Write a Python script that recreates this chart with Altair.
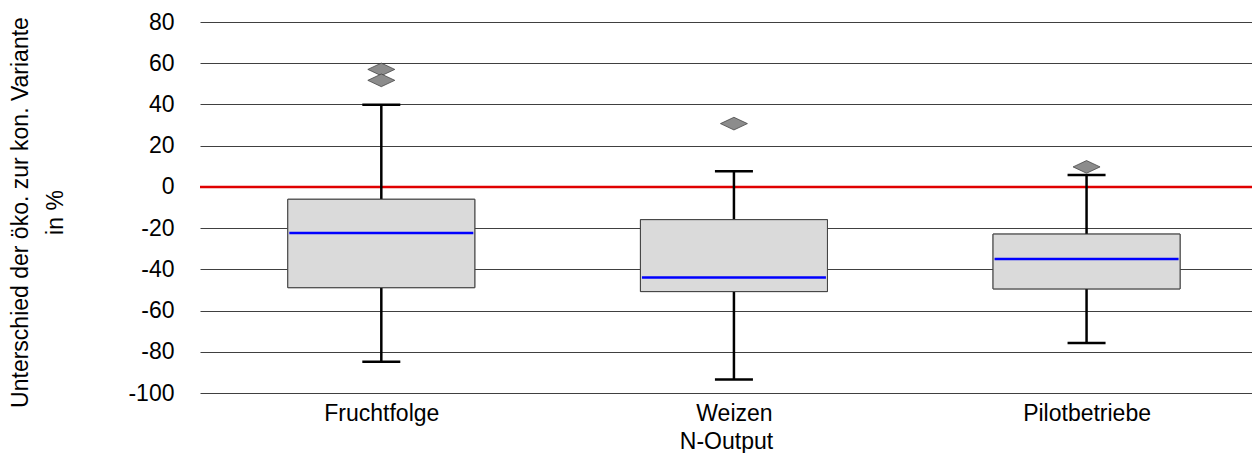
import json
import altair as alt
import pandas as pd

categories = ["Fruchtfolge", "Weizen", "Pilotbetriebe"]
q1 = [-48.9, -50.8, -49.5]
q3 = [-6.0, -15.9, -22.9]
median = [-22.4, -44.0, -35.0]
whisker_low = [-84.8, -93.5, -75.7]
whisker_high = [39.9, 7.6, 5.8]
outlier_cat = ["Fruchtfolge", "Fruchtfolge", "Weizen", "Pilotbetriebe"]
outlier_val = [57.0, 51.7, 30.7, 9.7]
y_ticks = [80, 60, 40, 20, 0, -20, -40, -60, -80, -100]

FONT = "Liberation Sans"
FS = 23

boxes = pd.DataFrame({
    "cat": categories,
    "idx": list(range(len(categories))),
    "q1": q1, "q3": q3, "median": median,
    "lo": whisker_low, "hi": whisker_high,
})
outl = pd.DataFrame({
    "idx": [categories.index(c) for c in outlier_cat],
    "val": outlier_val,
})
zero = pd.DataFrame({"y": [0], "idx": [0]})

xscale = alt.Scale(domain=[-0.5, 2.455], nice=False, zero=False)
yscale = alt.Scale(domain=[-100, 80], nice=False, zero=False)
label_expr = json.dumps(categories) + "[datum.value]"

x_axis = alt.Axis(values=[0, 1, 2], labelExpr=label_expr, title="N-Output",
                  domain=False, ticks=False, grid=False, labelPadding=9,
                  labelFontSize=FS, titleFontSize=FS, labelFont=FONT, titleFont=FONT,
                  labelColor="#000000", titleColor="#000000", titleFontWeight="normal",
                  titleBaseline="alphabetic", titleY=55)
y_axis = alt.Axis(values=y_ticks, title=["Unterschied der öko. zur kon. Variante", "in %"],
                  labelExpr="replace(format(datum.value, 'd'), '\u2212', '-')",
                  domain=False, ticks=False, tickSize=0, grid=True, gridColor="#404040",
                  gridWidth=1, gridOpacity=1, labelPadding=26, labelFontSize=FS, titleFontSize=FS,
                  labelFont=FONT, titleFont=FONT, labelColor="#000000",
                  titleColor="#000000", titleFontWeight="normal",
                  titleX=-168, titleY=190, titleLineHeight=35, titleAlign="center")


def X():
    return alt.X("idx:Q", scale=xscale, axis=x_axis)


def Y(field):
    return alt.Y(field, scale=yscale, axis=y_axis)


base = alt.Chart(boxes)

box = base.mark_bar(size=187, color="#dadada", stroke="#404040", strokeWidth=1).encode(
    x=X(), y=Y("q1:Q"), y2="q3:Q")

zero_line = alt.Chart(zero).mark_rule(color="#e00000", strokeWidth=2.5).encode(
    y=Y("y:Q"))

w_up = base.mark_rule(color="#000000", strokeWidth=2.5).encode(
    x=X(), y=Y("q3:Q"), y2="hi:Q")
w_lo = base.mark_rule(color="#000000", strokeWidth=2.5).encode(
    x=X(), y=Y("lo:Q"), y2="q1:Q")
cap_hi = base.mark_tick(orient="horizontal", size=38, thickness=2.5, color="#000000", opacity=1).encode(
    x=X(), y=Y("hi:Q"))
cap_lo = base.mark_tick(orient="horizontal", size=38, thickness=2.5, color="#000000", opacity=1).encode(
    x=X(), y=Y("lo:Q"))
med = base.mark_tick(orient="horizontal", size=184, thickness=2.5, color="#0000ff", opacity=1).encode(
    x=X(), y=Y("median:Q"))

diamond = "M -1 0 L 0 -0.47 L 1 0 L 0 0.47 Z"
pts = alt.Chart(outl).mark_point(shape=diamond, size=729, filled=True, fill="#8c8c8c",
                                  stroke="#3a3a3a", strokeWidth=0.7, opacity=1).encode(
    x=X(), y=Y("val:Q"))

chart = alt.layer(box, zero_line, w_up, w_lo, box, med, cap_hi, cap_lo, pts).properties(
    width=1052, height=371,
    autosize=alt.AutoSizeParams(type="none"),
    padding={"left": 192, "top": 14, "right": 0, "bottom": 60},
    background="#ffffff",
).configure_view(stroke=None)

chart.save("out.html", embed_options={"renderer": "svg", "actions": False})
